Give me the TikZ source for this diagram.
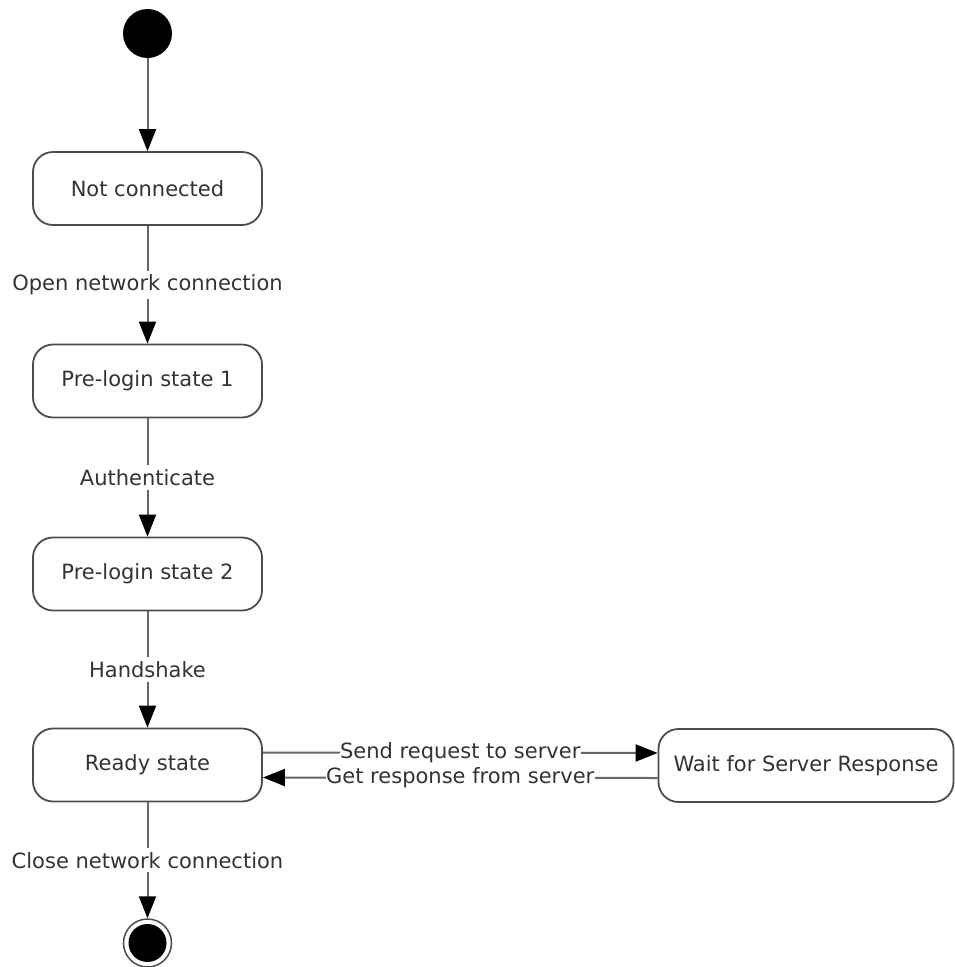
\documentclass[tikz,border=0pt]{standalone}
\usepackage{fontspec}
\setmainfont{DejaVu Sans}
\usetikzlibrary{arrows.meta}
\begin{document}
\begin{tikzpicture}[x=1pt,y=-1pt,
  font=\fontsize{21}{24}\selectfont,
  every node/.style={text=black!80},
  state/.style={draw=black!70, line width=1.8pt, rounded corners=20pt, minimum width=229pt, minimum height=73pt, inner sep=0pt},
  conn/.style={draw=black!60, line width=2pt, -{Triangle[length=22pt,width=17pt,color=black]}},
  lab/.style={fill=white, inner xsep=1pt, inner ysep=4pt},
  hlab/.style={fill=white, inner sep=0.5pt},
]
\useasboundingbox (0,0) rectangle (955,967);
\node[circle, fill=black, minimum size=49pt, inner sep=0pt] (start) at (147.5,33.5) {};
\node[state] (nc) at (147.5,188.5) {Not connected};
\node[state] (p1) at (147.5,381) {Pre-login state 1};
\node[state] (p2) at (147.5,574) {Pre-login state 2};
\node[state] (ready) at (147.5,765) {Ready state};
\node[state, minimum width=295pt] (wait) at (806,765.5) {Wait for Server Response};
\node[circle, draw=black!70, line width=1.5pt, minimum size=48pt, inner sep=0pt,
  path picture={\fill[black] (path picture bounding box.center) circle (19pt);}] (end) at (147.5,943) {};

\draw[conn] (start) -- (nc);
\draw[conn] (nc) -- node[lab] {Open network connection} (p1);
\draw[conn] (p1) -- node[lab] {Authenticate} (p2);
\draw[conn] (p2) -- node[lab] {Handshake} (ready);
\draw[conn] (ready) -- node[lab] {Close network connection} (end);
\draw[conn] ([yshift=12.5pt]ready.east) -- node[hlab] {Send request to server} ([yshift=12.5pt]wait.west);
\draw[conn] ([yshift=-12.5pt]wait.west) -- node[hlab] {Get response from server} ([yshift=-12.5pt]ready.east);
\end{tikzpicture}
\end{document}
